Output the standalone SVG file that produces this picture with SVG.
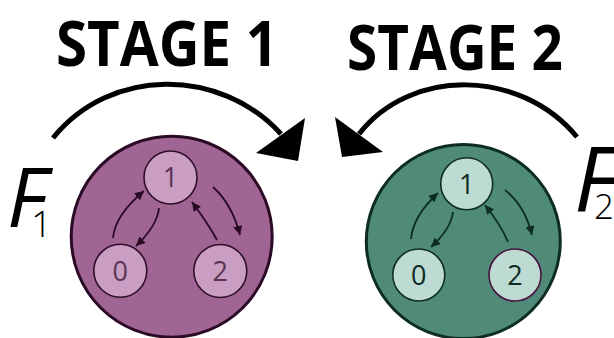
<svg xmlns="http://www.w3.org/2000/svg" width="614" height="338" viewBox="0 0 614 338">
<style>
.title{font-family:"Open Sans","Liberation Sans",sans-serif;font-weight:700;fill:#000}
.flab{font-family:"Open Sans","Liberation Sans",sans-serif;font-weight:400;font-style:italic;fill:#000}
.fsub{font-family:"Open Sans","Liberation Sans",sans-serif;font-weight:300;fill:#000}
.arc{fill:none;stroke:#000;stroke-width:5}
.big1{fill:#a06593;stroke:#2a0a25;stroke-width:3}
.big2{fill:#4f8b78;stroke:#0d2d23;stroke-width:3}
.n1{fill:#c99ec2;stroke:#2e0f28;stroke-width:1.6}
.n2{fill:#bddbd2;stroke:#0f2d24;stroke-width:1.6}
.d1{font-family:"Open Sans","Liberation Sans",sans-serif;font-size:27px;fill:#5b3454;text-anchor:middle}
.d2{font-family:"Open Sans","Liberation Sans",sans-serif;font-size:27px;fill:#0f2a22;text-anchor:middle}
.e1{fill:none;stroke:#2a0a25;stroke-width:1.8;marker-end:url(#m1)}
.e2{fill:none;stroke:#0d2d23;stroke-width:1.8;marker-end:url(#m2)}
</style>
<defs>
<marker id="m1" viewBox="0 0 10 10" refX="10" refY="5" markerUnits="userSpaceOnUse" markerWidth="10" markerHeight="9" orient="auto"><path d="M0,0 L10,5 L0,10 z" fill="#2a0a25"/></marker>
<marker id="m2" viewBox="0 0 10 10" refX="10" refY="5" markerUnits="userSpaceOnUse" markerWidth="10" markerHeight="9" orient="auto"><path d="M0,0 L10,5 L0,10 z" fill="#0d2d23"/></marker>
</defs>
<g id="titles">
<text class="title" x="56" y="66" font-size="63" textLength="222" lengthAdjust="spacingAndGlyphs">STAGE 1</text>
<text class="title" x="347" y="70" font-size="62" textLength="216" lengthAdjust="spacingAndGlyphs">STAGE 2</text>
</g>
<g id="connectors">
<path class="arc" d="M53,138 C110,67 220,67 281,134"/>
<polygon points="305,118 256,153 298,161" fill="#000"/>
<path class="arc" d="M577,137 C520,68 410,68 359,134"/>
<polygon points="335,117 342,157 383,152" fill="#000"/>
</g>
<g id="F1">
<text class="flab" x="7" y="227" font-size="83">F</text>
<text class="fsub" x="31" y="237" font-size="37">1</text>
</g>
<g id="F2">
<text class="flab" x="574" y="211" font-size="90">F</text>
<text class="fsub" x="594" y="219" font-size="35">2</text>
</g>
<g id="stage1">
<circle class="big1" cx="171.7" cy="236.7" r="100.5"/>
<g id="s1-node1"><circle class="n1" cx="170.5" cy="177.5" r="26.5"/><text class="d1" x="170.5" y="187.3">1</text></g>
<g id="s1-node0"><circle class="n1" cx="120.3" cy="270.8" r="26.5"/><text class="d1" x="120.3" y="280.6">0</text></g>
<g id="s1-node2"><circle class="n1" cx="220.3" cy="271" r="26.5"/><text class="d1" x="220.3" y="280.8">2</text></g>
<g id="s1-edges">
<path class="e1" d="M113,238 Q115,215 144,191"/>
<path class="e1" d="M159,208 Q157,226 136,246"/>
<path class="e1" d="M217,240 Q209,225 192,202"/>
<path class="e1" d="M213,187 Q232,204 240,235"/>
</g>
</g>
<g id="stage2">
<circle class="big2" cx="463.3" cy="241.6" r="97"/>
<g id="s2-node1"><circle class="n2" cx="466.7" cy="183.7" r="26"/><text class="d2" x="466.7" y="193.5">1</text></g>
<g id="s2-node0"><circle class="n2" cx="418.8" cy="275" r="26"/><text class="d2" x="418.8" y="284.8">0</text></g>
<g id="s2-node2"><circle class="n2" cx="515" cy="275" r="26" style="stroke:#4a1040"/><text class="d2" x="515" y="284.8">2</text></g>
<g id="s2-edges">
<path class="e2" d="M411,239 Q413,216 438,193"/>
<path class="e2" d="M453,212 Q451,229 431,247"/>
<path class="e2" d="M508,242 Q501,225 485,205"/>
<path class="e2" d="M505,190 Q525,206 532,235"/>
</g>
</g>
</svg>
